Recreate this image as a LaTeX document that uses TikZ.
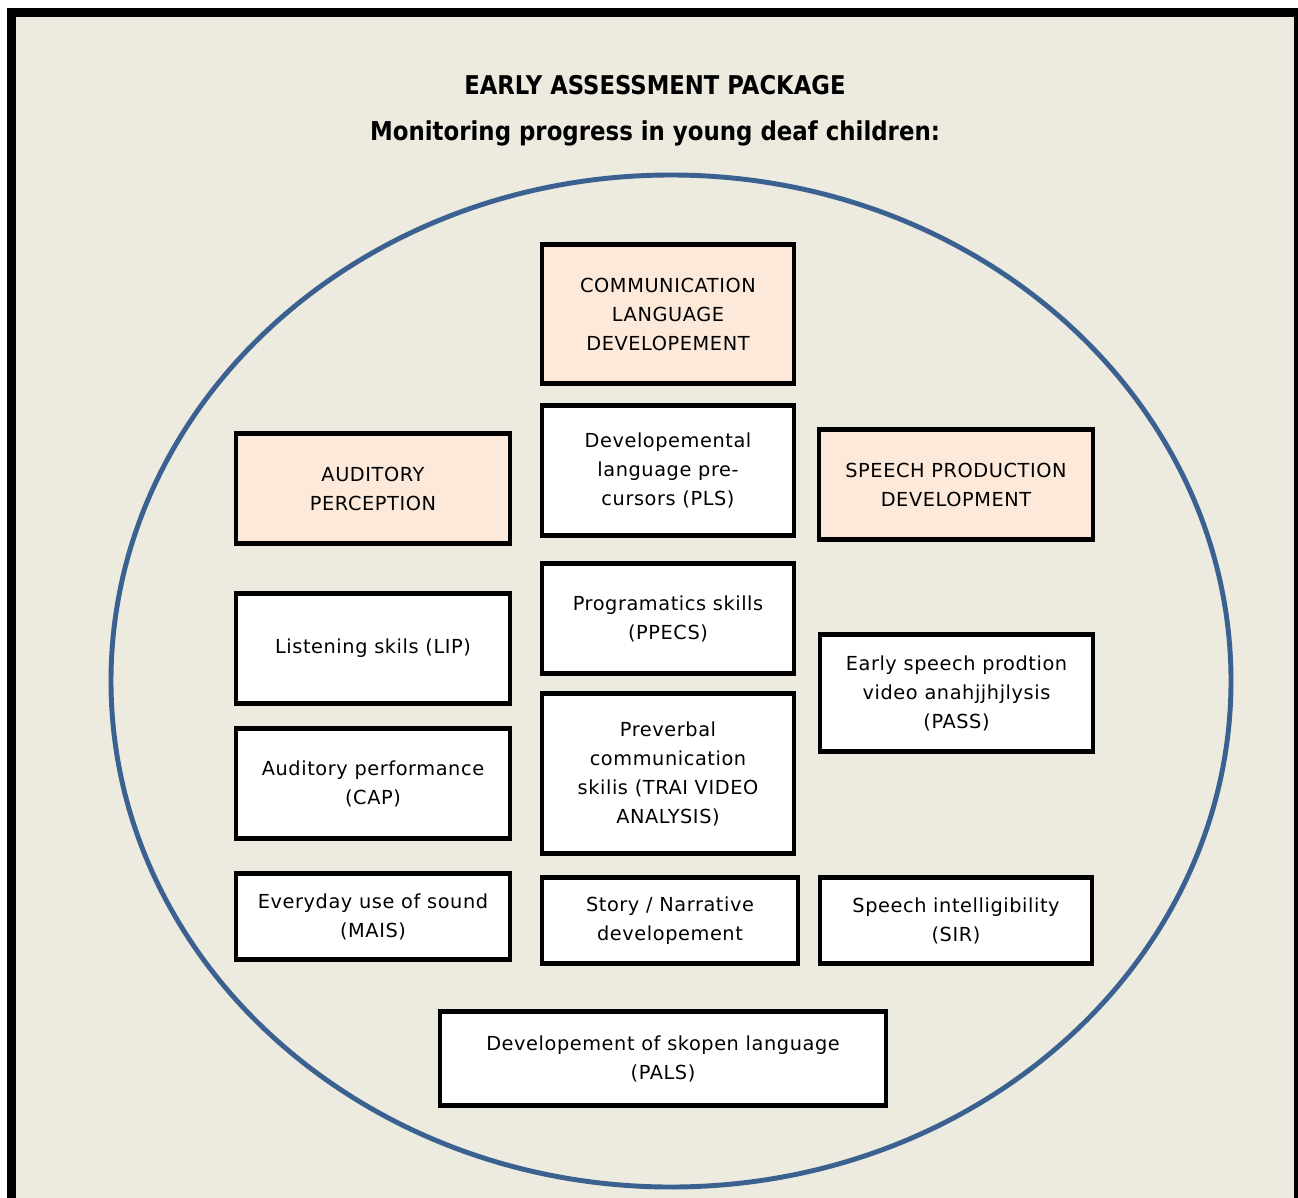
\documentclass[tikz,border=0pt]{standalone}
\usepackage{fontspec}
\setmainfont{DejaVu Sans}[LetterSpace=3]
\newfontfamily\headfont{DejaVu Sans}[FakeStretch=0.88]
\definecolor{paper}{RGB}{237,234,224}
\definecolor{peach}{RGB}{252,233,218}
\definecolor{rim}{RGB}{58,97,144}
\begin{document}
\begin{tikzpicture}[x=0.02cm, y=-0.02cm,
		box/.style={draw=black, line width=2.6pt, fill=white, align=center, inner sep=2pt,
			font={\fontsize{11}{16.5}\selectfont}},
		headbox/.style={box, fill=peach},
		wide/.style={minimum width=5.48cm},
		mid/.style={minimum width=5.04cm}]
				\useasboundingbox (0,0) rectangle (1298,1197);
				\clip (0,0) rectangle (1298,1197);
				\fill[white] (0,0) rectangle (1298,1197);
				\fill[black] (7,8) rectangle (1320,1220);
				\fill[paper] (16,17) rectangle (1294,1220);
				\node[font={\headfont\bfseries\fontsize{14.7}{16}\selectfont}] (title) at (655,85) {EARLY ASSESSMENT PACKAGE};
				\node[font={\headfont\bfseries\fontsize{14.8}{17}\selectfont}] (subtitle) at (655,133) {Monitoring progress in young deaf children:};
				\draw[rim, line width=2.8pt] (671,681) ellipse [x radius=560, y radius=506];
				% middle column
				\node[headbox, mid, minimum height=2.78cm] (comm) at (668,314) {COMMUNICATION\\LANGUAGE\\DEVELOPEMENT};
				\node[box, mid, minimum height=2.6cm] (pls) at (668,470.5) {Developemental\\language pre-\\cursors (PLS)};
				\node[box, mid, minimum height=2.2cm] (ppecs) at (668,618.5) {Programatics skills\\(PPECS)};
				\node[box, mid, minimum height=3.2cm] (trai) at (668,773.5) {Preverbal\\communication\\skilis (TRAI VIDEO\\ANALYSIS)};
				\node[box, minimum width=5.12cm, minimum height=1.72cm] (story) at (670,920.5) {Story / Narrative\\developement};
				% left column
				\node[headbox, wide, minimum height=2.2cm] (aud) at (373,488.5) {AUDITORY\\PERCEPTION};
				\node[box, wide, minimum height=2.2cm] (lip) at (373,648.5) {Listening skils (LIP)};
				\node[box, wide, minimum height=2.2cm] (cap) at (373,783.5) {Auditory performance\\(CAP)};
				\node[box, wide, minimum height=1.72cm] (mais) at (373,916.5) {Everyday use of sound\\(MAIS)};
				% right column
				\node[headbox, wide, minimum height=2.2cm] (spp) at (956,484.5) {SPEECH PRODUCTION\\DEVELOPMENT};
				\node[box, minimum width=5.46cm, minimum height=2.34cm] (pass) at (956.5,693) {Early speech prodtion\\video anahjjhjlysis\\(PASS)};
				\node[box, minimum width=5.44cm, minimum height=1.72cm] (sir) at (956,920.5) {Speech intelligibility\\(SIR)};
				% bottom
				\node[box, minimum width=8.92cm, minimum height=1.88cm] (pals) at (663,1058.5) {Developement of skopen language\\(PALS)};
\end{tikzpicture}
\end{document}
